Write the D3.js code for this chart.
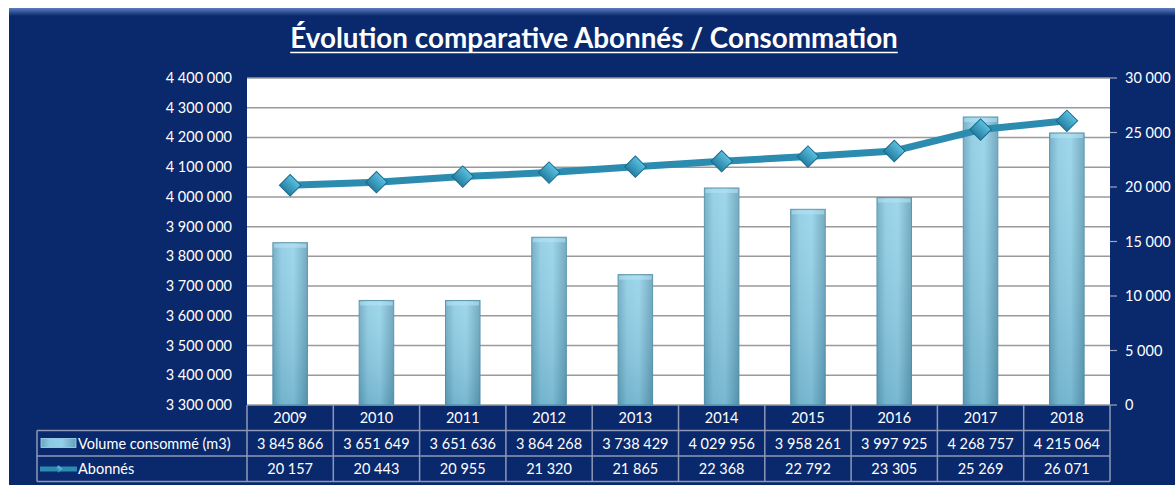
<!DOCTYPE html>
<html><head><meta charset="utf-8">
<script src="https://cdn.jsdelivr.net/npm/d3@7"></script>
<style>body{margin:0;background:#fff;}svg{display:block;font-family:Lato,"Open Sans",sans-serif;}</style>
</head><body>
<svg id="c" width="1175" height="485"></svg>
<script>
const years = ["2009","2010","2011","2012","2013","2014","2015","2016","2017","2018"];
const volume = [3845866,3651649,3651636,3864268,3738429,4029956,3958261,3997925,4268757,4215064];
const abonnes = [20157,20443,20955,21320,21865,22368,22792,23305,25269,26071];
const leftTicks = [3300000,3400000,3500000,3600000,3700000,3800000,3900000,4000000,4100000,4200000,4300000,4400000];
const rightTicks = [0,5000,10000,15000,20000,25000,30000];
const titleText = "Évolution comparative Abonnés / Consommation";
const seriesNames = ["Volume consommé (m3)","Abonnés"];

const svg = d3.select("#c");
const fr = d3.formatLocale({decimal:",",thousands:" ",grouping:[3],currency:["",""]}).format(",d");

const L=247,R=1110,T=78,B=405;
const rowH=25.5, tableLeft=37;
const FS=14.5;
const x = d3.scaleBand().domain(years).range([L,R]).padding(0);
const yL = d3.scaleLinear().domain([3300000,4400000]).range([B,T]);
const yR = d3.scaleLinear().domain([0,30000]).range([B,T]);

const defs = svg.append("defs");
const fg = defs.append("linearGradient").attr("id","frameTop").attr("x1",0).attr("y1",0).attr("x2",0).attr("y2",1);
fg.append("stop").attr("offset","0%").attr("stop-color","#5a7cc0");
fg.append("stop").attr("offset","100%").attr("stop-color","#0a296c");
const bg = defs.append("linearGradient").attr("id","barG").attr("x1",0).attr("y1",0).attr("x2",1).attr("y2",0);
[["0%","#66a6c0"],["25%","#8acae2"],["60%","#92d1e8"],["100%","#639fb8"]].forEach(s=>bg.append("stop").attr("offset",s[0]).attr("stop-color",s[1]));
const bv = defs.append("linearGradient").attr("id","barV").attr("x1",0).attr("y1",0).attr("x2",0).attr("y2",1);
[["0%","#ffffff",0.12],["100%","#1d5f7c",0.22]].forEach(s=>bv.append("stop").attr("offset",s[0]).attr("stop-color",s[1]).attr("stop-opacity",s[2]));
const mg = defs.append("linearGradient").attr("id","mkG").attr("x1",0).attr("y1",0).attr("x2",0).attr("y2",1);
[["0%","#5cc0e0"],["100%","#237fa3"]].forEach(s=>mg.append("stop").attr("offset",s[0]).attr("stop-color",s[1]));

// frame
svg.append("rect").attr("x",9).attr("y",8).attr("width",1175).attr("height",485).attr("fill","#0a296c");
svg.append("rect").attr("x",9).attr("y",8).attr("width",1175).attr("height",8).attr("fill","url(#frameTop)");

// title
const title = svg.append("text").attr("x",594).attr("y",48).attr("text-anchor","middle")
  .attr("fill","#fff").attr("font-weight","bold").attr("font-size",25).text(titleText);
let tl = title.node().getComputedTextLength();
title.attr("font-size",25*608/tl);
tl = title.node().getComputedTextLength();
svg.append("line").attr("x1",594-tl/2).attr("x2",594+tl/2).attr("y1",52.5).attr("y2",52.5).attr("stroke","#fff").attr("stroke-width",1.6);

// plot area
svg.append("rect").attr("x",L).attr("y",T).attr("width",R-L).attr("height",B-T).attr("fill","#fff");
svg.append("g").selectAll("line").data(leftTicks).join("line")
  .attr("x1",L).attr("x2",R).attr("y1",d=>yL(d)).attr("y2",d=>yL(d))
  .attr("stroke","#9a9a9a").attr("stroke-width",1.5);

// left axis labels
svg.append("g").selectAll("text").data(leftTicks).join("text")
  .attr("x",232).attr("y",d=>yL(d)+5).attr("text-anchor","end").attr("fill","#fff").attr("font-size",FS).text(d=>fr(d));
// right axis
svg.append("g").selectAll("line").data(rightTicks).join("line")
  .attr("x1",R).attr("x2",R+7).attr("y1",d=>yR(d)).attr("y2",d=>yR(d)).attr("stroke","#9aa6c4").attr("stroke-width",1.2);
svg.append("g").selectAll("text").data(rightTicks).join("text")
  .attr("x",1125).attr("y",d=>yR(d)+5).attr("fill","#fff").attr("font-size",FS).text(d=>fr(d));

// bars
const bw = x.bandwidth()*0.4;
const bars = svg.append("g");
bars.selectAll("rect.b").data(years).join("rect").attr("class","b")
  .attr("x",d=>x(d)+x.bandwidth()/2-bw/2).attr("width",bw)
  .attr("y",(d,i)=>yL(volume[i])).attr("height",(d,i)=>B-yL(volume[i]))
  .attr("fill","url(#barG)").attr("stroke","#5590aa").attr("stroke-width",1);
bars.selectAll("rect.v").data(years).join("rect").attr("class","v")
  .attr("x",d=>x(d)+x.bandwidth()/2-bw/2).attr("width",bw)
  .attr("y",(d,i)=>yL(volume[i])).attr("height",(d,i)=>B-yL(volume[i]))
  .attr("fill","url(#barV)");
bars.selectAll("rect.cap").data(years).join("rect").attr("class","cap")
  .attr("x",d=>x(d)+x.bandwidth()/2-bw/2+1).attr("width",bw-2)
  .attr("y",(d,i)=>yL(volume[i])+1).attr("height",4)
  .attr("fill","#b4e3f3").attr("opacity",0.6);

// line
const cx = d=>x(d)+x.bandwidth()/2;
const line = d3.line().x((d,i)=>cx(years[i])).y(d=>yR(d));
svg.append("path").datum(abonnes).attr("d",line).attr("fill","none")
  .attr("stroke","#2b8cb0").attr("stroke-width",7).attr("stroke-linejoin","round");
const sym = d3.symbol().type(d3.symbolSquare).size(230);
svg.append("g").selectAll("path").data(abonnes).join("path")
  .attr("d",sym).attr("transform",(d,i)=>`translate(${cx(years[i])},${yR(d)}) rotate(45)`)
  .attr("fill","url(#mkG)").attr("stroke","#1b6a8a").attr("stroke-width",1);

// table
const tg = svg.append("g");
const gridC = "#8e98b6";
const r0=B, r1=B+rowH, r2=B+2*rowH, r3=B+3*rowH;
[r1,r2,r3].forEach(yy=>tg.append("line").attr("x1",tableLeft).attr("x2",R).attr("y1",yy).attr("y2",yy).attr("stroke",gridC).attr("stroke-width",1.5));
tg.append("line").attr("x1",tableLeft).attr("x2",tableLeft).attr("y1",r1).attr("y2",r3).attr("stroke",gridC).attr("stroke-width",1.5);
tg.selectAll("line.v").data(years.concat(["end"])).join("line").attr("class","v")
  .attr("x1",d=>d==="end"?R:x(d)).attr("x2",d=>d==="end"?R:x(d)).attr("y1",r0).attr("y2",r3)
  .attr("stroke",gridC).attr("stroke-width",1.5);
tg.selectAll("text.y").data(years).join("text").attr("class","y")
  .attr("x",d=>cx(d)).attr("y",r0+18).attr("text-anchor","middle").attr("fill","#fff").attr("font-size",FS).text(d=>d);
tg.selectAll("text.vol").data(volume).join("text").attr("class","vol")
  .attr("x",(d,i)=>cx(years[i])).attr("y",r1+18).attr("text-anchor","middle").attr("fill","#fff").attr("font-size",FS).text(d=>fr(d));
tg.selectAll("text.ab").data(abonnes).join("text").attr("class","ab")
  .attr("x",(d,i)=>cx(years[i])).attr("y",r2+18).attr("text-anchor","middle").attr("fill","#fff").attr("font-size",FS).text(d=>fr(d));
// legend keys
tg.append("rect").attr("x",41).attr("y",r1+8).attr("width",35).attr("height",9).attr("fill","url(#barG)").attr("stroke","#a8dcef").attr("stroke-width",0.8);
tg.append("line").attr("x1",40).attr("x2",77).attr("y1",r2+13).attr("y2",r2+13).attr("stroke","#2b8cb0").attr("stroke-width",5);
tg.append("path").attr("d",d3.symbol().type(d3.symbolSquare).size(30)).attr("transform",`translate(58.5,${r2+13}) rotate(45)`).attr("fill","url(#mkG)");
const lt = tg.append("text").attr("x",78).attr("y",r1+18).attr("fill","#fff").attr("font-size",FS).text(seriesNames[0]);
const ll = lt.node().getComputedTextLength();
if (ll > 164) lt.attr("font-size", FS*164/ll);
tg.append("text").attr("x",78).attr("y",r2+18).attr("fill","#fff").attr("font-size",lt.attr("font-size")).text(seriesNames[1]);
</script>
</body></html>
